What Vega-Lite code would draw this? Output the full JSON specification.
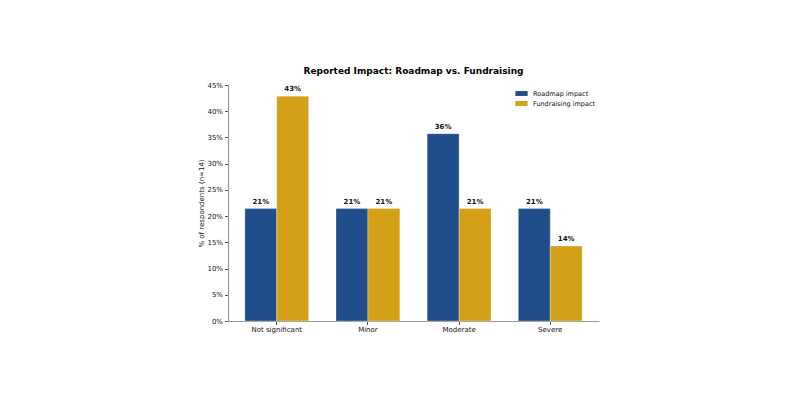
{
  "$schema": "https://vega.github.io/schema/vega-lite/v6.json",
  "autosize": {"type": "none"},
  "padding": {"left": 228, "top": 85, "right": 201, "bottom": 79},
  "width": 371,
  "height": 236,
  "background": "white",
  "title": {
    "text": "Reported Impact: Roadmap vs. Fundraising",
    "font": "DejaVu Sans",
    "fontSize": 9,
    "fontWeight": "bold",
    "color": "#000000",
    "anchor": "middle",
    "offset": 5
  },
  "config": {
    "font": "DejaVu Sans",
    "view": {"stroke": null},
    "axis": {
      "labelFont": "DejaVu Sans",
      "labelFontSize": 7,
      "labelColor": "#111111",
      "titleFont": "DejaVu Sans",
      "titleFontSize": 7,
      "titleFontWeight": "normal",
      "titleColor": "#111111",
      "tickColor": "#555555",
      "tickSize": 3.5,
      "domainColor": "#999999",
      "domainWidth": 1.2,
      "grid": false
    }
  },
  "data": {
    "values": [
      {"category": "Not significant", "series": "Roadmap impact", "pct": 21.43, "label": "21%"},
      {"category": "Not significant", "series": "Fundraising impact", "pct": 42.86, "label": "43%"},
      {"category": "Minor", "series": "Roadmap impact", "pct": 21.43, "label": "21%"},
      {"category": "Minor", "series": "Fundraising impact", "pct": 21.43, "label": "21%"},
      {"category": "Moderate", "series": "Roadmap impact", "pct": 35.71, "label": "36%"},
      {"category": "Moderate", "series": "Fundraising impact", "pct": 21.43, "label": "21%"},
      {"category": "Severe", "series": "Roadmap impact", "pct": 21.43, "label": "21%"},
      {"category": "Severe", "series": "Fundraising impact", "pct": 14.29, "label": "14%"}
    ]
  },
  "encoding": {
    "x": {
      "field": "category",
      "type": "nominal",
      "sort": ["Not significant", "Minor", "Moderate", "Severe"],
      "scale": {"paddingInner": 0.3, "paddingOuter": 0.185},
      "axis": {"title": null, "labelAngle": 0, "labelPadding": 1}
    },
    "xOffset": {
      "field": "series",
      "type": "nominal",
      "sort": ["Roadmap impact", "Fundraising impact"],
      "scale": {"paddingInner": 0, "paddingOuter": 0}
    },
    "y": {
      "field": "pct",
      "type": "quantitative",
      "scale": {"domain": [0, 45], "nice": false},
      "axis": {
        "title": "% of respondents (n=14)",
        "values": [0, 5, 10, 15, 20, 25, 30, 35, 40, 45],
        "labelExpr": "datum.value + '%'",
        "titlePadding": 2
      }
    }
  },
  "layer": [
    {
      "mark": {"type": "bar", "stroke": "#ffffff", "strokeWidth": 0.5, "strokeOpacity": 0.6},
      "encoding": {
        "color": {
          "field": "series",
          "type": "nominal",
          "sort": ["Roadmap impact", "Fundraising impact"],
          "scale": {"domain": ["Roadmap impact", "Fundraising impact"], "range": ["#1f4e8b", "#d4a017"]},
          "legend": {
            "title": null,
            "orient": "none",
            "legendX": 287,
            "legendY": 2,
            "symbolType": "M-1,-0.4L1,-0.4L1,0.4L-1,0.4Z",
            "symbolSize": 150,
            "symbolStrokeWidth": 0,
            "labelFont": "DejaVu Sans",
            "labelFontSize": 6.5,
            "labelColor": "#111111",
            "rowPadding": 0,
            "labelOffset": 5
          }
        }
      }
    },
    {
      "mark": {"type": "text", "dy": -4, "baseline": "bottom", "fontWeight": "bold", "fontSize": 7, "color": "#111111"},
      "encoding": {
        "text": {"field": "label"}
      }
    }
  ]
}
